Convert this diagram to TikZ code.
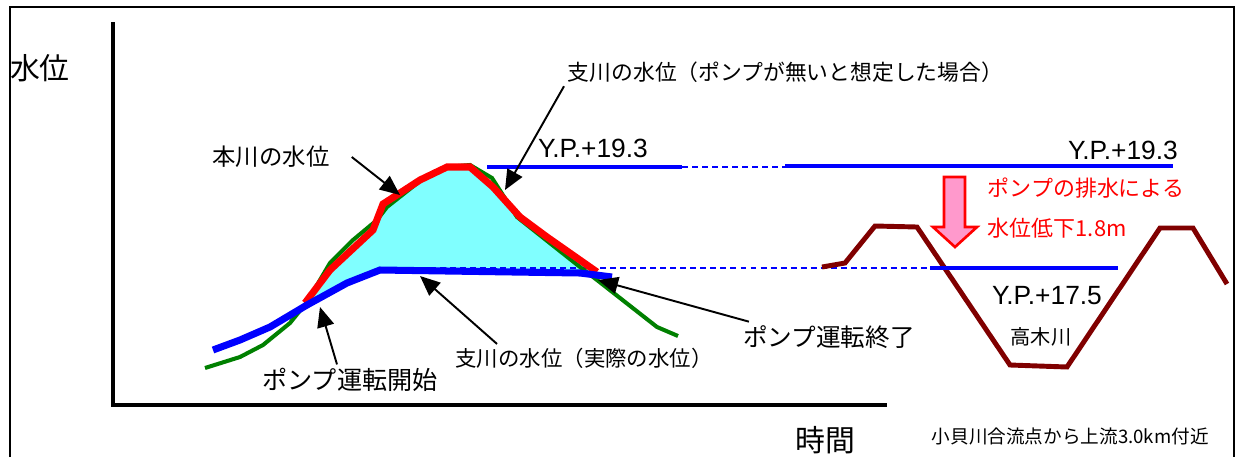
\documentclass[tikz,border=0pt]{standalone}
\usepackage{fontspec}
\setmainfont{Liberation Sans}
\newfontfamily\jpfont{Noto Sans CJK JP}
\usepackage{tikz}
\usetikzlibrary{arrows.meta}
\definecolor{dropfill}{RGB}{255,153,204}
\definecolor{floodfill}{RGB}{128,255,255}

\begin{document}
\begin{tikzpicture}[x=0.02cm, y=-0.02cm,
  jp/.style={font=\jpfont\fontsize{#1}{#1}\selectfont, inner sep=2pt},
  yp/.style={font=\fontsize{15pt}{15pt}\selectfont, inner sep=2pt},
  arr/.style={-{Triangle[length=4mm,width=3.4mm]}, line width=1.1pt},
  axis/.style={line width=2.8pt},
  mainlevel/.style={draw=green!50!black, line width=2.3pt},
  nopump/.style={draw=red, line width=4pt},
  actual/.style={draw=blue, line width=4pt},
  levelline/.style={draw=blue, line width=2pt},
  guide/.style={draw=blue, line width=0.6pt, dash pattern=on 3.4pt off 2.3pt},
  bank/.style={draw=red!50!black, line width=2.8pt}
]
\useasboundingbox (0,0) rectangle (1237,457);
\draw[line width=0.8pt] (10,457) -- (10,7) -- (1234,7) -- (1234,457);
\draw[axis] (113,22) -- (113,405) -- (887,405);

\fill[floodfill] (305,303) -- (330,270) -- (373,230) -- (383,204) -- (400,193) -- (420,180)
  -- (447,167) -- (470,167) -- (493,187) -- (520,217) -- (595,271)
  -- (580,273) -- (380,270) -- (347,283) -- cycle;
\draw[guide] (400,268) -- (930,268);
\draw[guide] (682,167) -- (785,167);

\draw[mainlevel] (205,368) -- (240,357) -- (263,345) -- (290,323) -- (307,302) -- (330,263)
  -- (353,240) -- (377,220) -- (387,207) -- (420,181) -- (447,167) -- (470,165)
  -- (492,178) -- (517,217) -- (580,267) -- (597,280) -- (657,327) -- (678,336);
\draw[nopump] (305,303) -- (330,270) -- (373,230) -- (383,204) -- (400,193) -- (420,180)
  -- (447,167) -- (470,167) -- (493,187) -- (520,217) -- (547,237) -- (597,272);
\draw[actual] (213,350) -- (240,340) -- (270,327) -- (307,305) -- (347,283) -- (380,270)
  -- (580,273) -- (612,277);

\draw[levelline] (487,167) -- (682,167);
\draw[levelline] (785,166) -- (1173,166);
\draw[bank] (822,267) -- (845,263) -- (875,226) -- (917,227) -- (1010,365) -- (1067,367)
  -- (1160,228) -- (1193,228) -- (1227,284);
\draw[levelline] (930,268) -- (1118,268);
\draw[draw=red, fill=dropfill, line width=1.5pt] (944,177) -- (965,177) -- (965,227)
  -- (977,227) -- (955,247) -- (933,227) -- (944,227) -- cycle;

\node[jp=17pt] (lblLevel) at (40,68) {水位};
\node[jp=17pt] (lblTime) at (825,440) {時間};
\node[jp=13.3pt] (lblMain) at (271,157) {本川の水位};
\node[jp=12.4pt, anchor=west] (lblNoPump) at (564,72) {支川の水位（ポンプが無いと想定した場合）};
\node[jp=12.2pt] (lblActual) at (584,358) {支川の水位（実際の水位）};
\node[jp=14.3pt] (lblStart) at (350,380) {ポンプ運転開始};
\node[jp=14pt] (lblEnd) at (829,337) {ポンプ運転終了};
\node[yp] (lblHigh) at (593,148) {Y.P.+19.3};
\node[yp] (lblHighR) at (1123,150) {Y.P.+19.3};
\node[yp] (lblLow) at (1047,296) {Y.P.+17.5};
\node[jp=12.5pt, text=red, anchor=west] (lblDrop) at (984,188) {ポンプの排水による};
\node[jp=12.5pt, text=red, anchor=west] (lblDropB) at (984,228) {水位低下1.8m};
\node[jp=11.5pt] (lblRiver) at (1041,337) {高木川};
\node[jp=10.6pt, anchor=west] (lblSite) at (928,436) {小貝川合流点から上流3.0km付近};

\coordinate (tipMain) at (400,195);
\coordinate (tipNoPump) at (505,190);
\coordinate (tipActual) at (420,276);
\coordinate (tipStart) at (320,307);
\coordinate (tipEnd) at (598,280);

\draw[arr] ([xshift=0.37cm]lblMain.east) -- (tipMain);
\draw[arr] (lblNoPump.south west) -- (tipNoPump);
\draw[arr] ([xshift=0.91cm]lblActual.north west) -- (tipActual);
\draw[arr] ([xshift=-0.26cm]lblStart.north) -- (tipStart);
\draw[arr] ([xshift=0.19cm]lblEnd.north west) -- (tipEnd);
\end{tikzpicture}
\end{document}
